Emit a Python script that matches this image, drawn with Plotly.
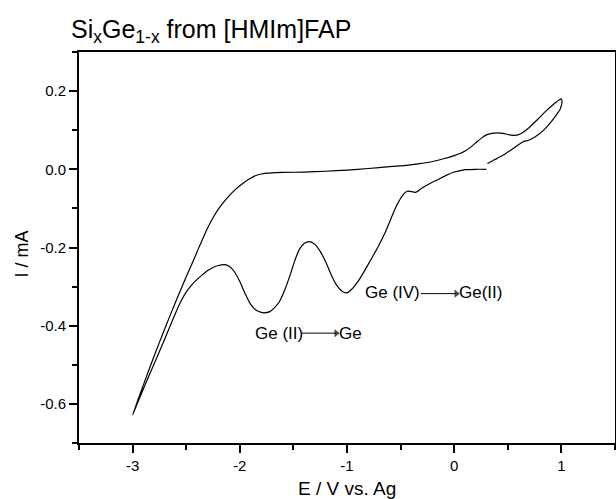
import plotly.graph_objects as go

# Cathodic scan (0.3 V -> -3.0 V), lower branch with reduction peaks
E_cathodic = [0.30, 0.20, 0.11, 0.05, 0.00, -0.07, -0.15, -0.23, -0.30, -0.36, -0.40, -0.44,
              -0.48, -0.52, -0.55, -0.60, -0.65, -0.70, -0.75, -0.80, -0.85, -0.90, -0.95,
              -1.00, -1.05, -1.10, -1.15, -1.20, -1.25, -1.30, -1.35, -1.40, -1.44, -1.48,
              -1.53, -1.58, -1.63, -1.68, -1.72, -1.775, -1.80, -1.85, -1.90, -1.95, -2.00,
              -2.05, -2.10, -2.14, -2.20, -2.25, -2.30, -2.35, -2.40, -2.45, -2.50, -2.55,
              -2.60, -2.70, -2.80, -2.90, -3.00]
I_cathodic = [0.000, 0.000, -0.001, -0.004, -0.007, -0.015, -0.026, -0.037, -0.048, -0.059,
              -0.057, -0.056, -0.066, -0.084, -0.100, -0.133, -0.165, -0.193, -0.218, -0.242,
              -0.266, -0.288, -0.305, -0.316, -0.311, -0.295, -0.268, -0.236, -0.210, -0.192,
              -0.185, -0.190, -0.203, -0.228, -0.270, -0.308, -0.338, -0.355, -0.364, -0.367,
              -0.366, -0.360, -0.345, -0.318, -0.287, -0.262, -0.248, -0.244, -0.246, -0.251,
              -0.259, -0.270, -0.282, -0.296, -0.314, -0.338, -0.368, -0.434, -0.498, -0.562,
              -0.628]

# Anodic scan (-3.0 V -> 1.0 V), upper branch
E_anodic = [-3.00, -2.90, -2.80, -2.70, -2.60, -2.50, -2.45, -2.40, -2.35, -2.30, -2.25,
            -2.20, -2.15, -2.10, -2.05, -2.00, -1.95, -1.90, -1.85, -1.80, -1.75, -1.70,
            -1.60, -1.40, -1.20, -1.00, -0.80, -0.60, -0.45, -0.32, -0.20, -0.10, 0.00,
            0.06, 0.11, 0.16, 0.21, 0.26, 0.30, 0.35, 0.40, 0.455, 0.50, 0.55, 0.595,
            0.64, 0.70, 0.78, 0.86, 0.93, 0.98, 1.00]
I_anodic = [-0.628, -0.552, -0.478, -0.408, -0.340, -0.275, -0.244, -0.212, -0.180, -0.150,
            -0.124, -0.102, -0.084, -0.068, -0.054, -0.042, -0.032, -0.023, -0.016, -0.012,
            -0.010, -0.009, -0.008, -0.007, -0.005, -0.002, 0.002, 0.007, 0.010, 0.0145,
            0.020, 0.027, 0.035, 0.041, 0.048, 0.058, 0.070, 0.081, 0.088, 0.092, 0.093,
            0.092, 0.089, 0.087, 0.088, 0.094, 0.107, 0.128, 0.150, 0.167, 0.178, 0.180]

# Return scan (1.0 V -> 0.31 V)
E_return = [1.005, 0.99, 0.95, 0.90, 0.83, 0.76, 0.70, 0.64, 0.59, 0.55, 0.50, 0.455,
            0.40, 0.36, 0.31]
I_return = [0.170, 0.155, 0.138, 0.120, 0.099, 0.084, 0.075, 0.070, 0.061, 0.053, 0.044,
            0.036, 0.028, 0.022, 0.015]

# Labels
label_text = ["Ge (IV)", "Ge(II)", "Ge (II)", "Ge"]
label_E = [-0.85, 0.023, -1.88, -1.095]
label_I = [-0.316, -0.316, -0.42, -0.42]
arrow_tail_E = [-0.312, -1.421]
arrow_head_E = [0.02, -1.10]
arrow_I = [-0.318, -0.419]

x_tickvals = [-3, -2, -1, 0, 1]
x_ticktext = ["-3", "-2", "-1", "0", "1"]
y_tickvals = [-0.6, -0.4, -0.2, 0.0, 0.2]
y_ticktext = ["-0.6", "-0.4", "-0.2", "0.0", "0.2"]

E_all = E_cathodic + E_anodic[1:] + E_return
I_all = I_cathodic + I_anodic[1:] + I_return

FONT = "Liberation Sans, Arial, Helvetica, sans-serif"

fig = go.Figure()
fig.add_trace(go.Scatter(x=E_all, y=I_all, mode="lines",
                         line=dict(color="black", width=1.2, shape="spline", smoothing=0.8),
                         showlegend=False, hoverinfo="skip"))

for xt, xh, y in zip(arrow_tail_E, arrow_head_E, arrow_I):
    fig.add_trace(go.Scatter(x=[xt, xh], y=[y, y], mode="lines+markers",
                             line=dict(color="black", width=1),
                             marker=dict(symbol=["line-ns", "triangle-right"], size=[0.1, 7],
                                         color="black", line=dict(width=0)),
                             showlegend=False, hoverinfo="skip"))

for t, x, y in zip(label_text, label_E, label_I):
    fig.add_annotation(x=x, y=y, text=t, showarrow=False, xanchor="left", yanchor="middle",
                       font=dict(family=FONT, size=17, color="black"))

# axis titles
fig.add_annotation(text="E / V vs. Ag", xref="paper", yref="paper", x=0.5, y=0,
                   yshift=-45, xanchor="center", yanchor="middle", showarrow=False,
                   font=dict(family=FONT, size=19, color="black"))
fig.add_annotation(text="I / mA", xref="paper", yref="paper", x=0, y=0.5,
                   xshift=-58, yshift=-7, xanchor="center", yanchor="middle",
                   textangle=-90, showarrow=False,
                   font=dict(family=FONT, size=18, color="black"))

fig.update_layout(
    width=616, height=499,
    margin=dict(l=79, r=1, t=52, b=56, autoexpand=False),
    paper_bgcolor="white", plot_bgcolor="white",
    font=dict(family=FONT, color="black", size=15),
    title=dict(text="Si<sub>x</sub>Ge<sub>1-x</sub> from [HMIm]FAP",
               font=dict(family=FONT, size=25, color="black"),
               x=71 / 616, xanchor="left", xref="container",
               y=1 - 29 / 499, yanchor="middle", yref="container"),
    xaxis=dict(range=[-3.5, 1.5], tickmode="array", tickvals=x_tickvals, ticktext=x_ticktext,
               ticks="outside", ticklen=8, tickwidth=1.5, tickcolor="black",
               minor=dict(tickmode="linear", tick0=0, dtick=0.5, ticks="outside", ticklen=5,
                          tickwidth=1.5, tickcolor="black"),
               showline=True, linewidth=2, linecolor="black", mirror=True,
               showgrid=False, zeroline=False, automargin=False,
               tickfont=dict(size=15)),
    yaxis=dict(range=[-0.7, 0.3], tickmode="array", tickvals=y_tickvals, ticktext=y_ticktext,
               ticks="outside", ticklen=8, tickwidth=1.5, tickcolor="black",
               minor=dict(tickmode="linear", tick0=0, dtick=0.1, ticks="outside", ticklen=5,
                          tickwidth=1.5, tickcolor="black"),
               showline=True, linewidth=2, linecolor="black", mirror=True,
               showgrid=False, zeroline=False, automargin=False,
               tickfont=dict(size=15)),
)

fig.write_html("out.html",
               config={"displayModeBar": False},
               post_script="document.body.style.margin='0px';"
                           "document.body.style.overflow='hidden';")
